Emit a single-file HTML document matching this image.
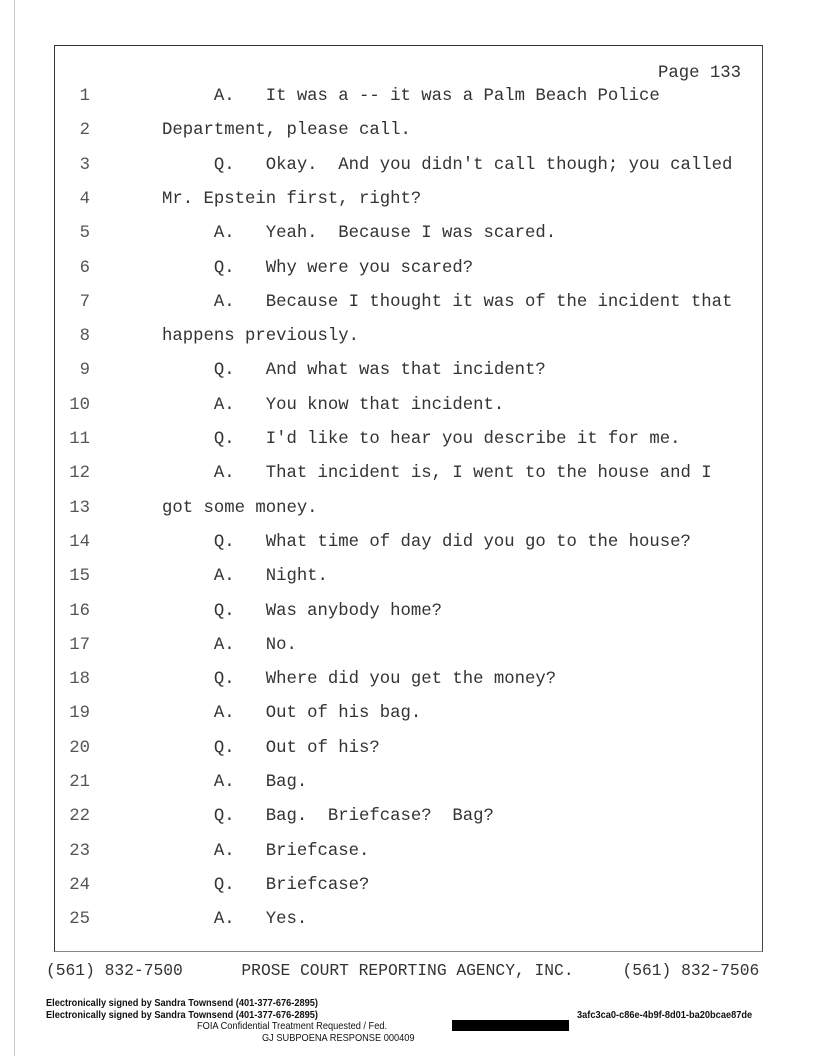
<!DOCTYPE html>
<html><head><meta charset="utf-8"><style>
body{margin:0;width:816px;height:1056px;background:#fff;position:relative;overflow:hidden}
.vl{position:absolute;left:14px;top:0;width:1px;height:1056px;background:#ccc}
.box{position:absolute;left:54px;top:45px;width:707px;height:905px;border:1.5px solid #333;border-bottom-color:#888;border-right-color:#444}
.t{position:absolute;font-family:"Liberation Mono",monospace;font-size:17.3px;color:#333;white-space:pre;line-height:20px}
.n{position:absolute;font-family:"Liberation Mono",monospace;font-size:17.3px;color:#555;width:40px;text-align:right;left:50px;line-height:20px}
.s{position:absolute;font-family:"Liberation Sans",sans-serif;font-size:10.5px;font-weight:bold;color:#111;line-height:12px;transform:scaleX(0.88);transform-origin:left}
</style></head><body>
<div class="vl"></div>
<div class="box"></div>
<div class="t" style="left:658px;top:64px">Page 133</div>
<div id="c"></div>
<div class="t" style="left:46px;top:961px;font-size:16.3px">(561) 832-7500      PROSE COURT REPORTING AGENCY, INC.     (561) 832-7506</div>
<div class="s" style="left:46px;top:997px">Electronically signed by Sandra Townsend (401-377-676-2895)</div>
<div class="s" style="left:46px;top:1009px">Electronically signed by Sandra Townsend (401-377-676-2895)</div>
<div class="s" style="left:577px;top:1009px">3afc3ca0-c86e-4b9f-8d01-ba20bcae87de</div>
<div class="s" style="left:197px;top:1020px;font-weight:normal">FOIA Confidential Treatment Requested / Fed.</div>
<div style="position:absolute;left:452px;top:1020px;width:117px;height:11px;background:#000"></div>
<div class="s" style="left:262px;top:1032px;font-weight:normal">GJ SUBPOENA RESPONSE 000409</div>
<script>
var L=["     A.   It was a -- it was a Palm Beach Police","Department, please call.","     Q.   Okay.  And you didn't call though; you called","Mr. Epstein first, right?","     A.   Yeah.  Because I was scared.","     Q.   Why were you scared?","     A.   Because I thought it was of the incident that","happens previously.","     Q.   And what was that incident?","     A.   You know that incident.","     Q.   I'd like to hear you describe it for me.","     A.   That incident is, I went to the house and I","got some money.","     Q.   What time of day did you go to the house?","     A.   Night.","     Q.   Was anybody home?","     A.   No.","     Q.   Where did you get the money?","     A.   Out of his bag.","     Q.   Out of his?","     A.   Bag.","     Q.   Bag.  Briefcase?  Bag?","     A.   Briefcase.","     Q.   Briefcase?","     A.   Yes."];
var h="";for(var i=0;i<25;i++){var y=87+i*34.3;h+='<div class="n" style="top:'+y+'px">'+(i+1)+'</div><div class="t" style="left:162px;top:'+y+'px">'+L[i].replace(/&/g,"&amp;").replace(/</g,"&lt;")+'</div>';}
document.getElementById("c").innerHTML=h;
</script>
</body></html>
